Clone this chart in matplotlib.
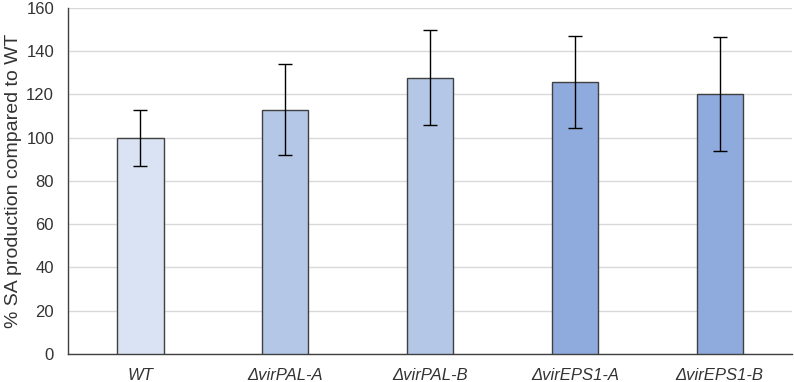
import matplotlib
matplotlib.use("Agg")
import matplotlib.pyplot as plt

categories = ["WT", "ΔvirPAL-A", "ΔvirPAL-B", "ΔvirEPS1-A", "ΔvirEPS1-B"]
values = [100, 113, 127.8, 125.8, 120.1]
errors = [13, 21, 21.8, 21.2, 26.4]
colors = ["#DAE3F3", "#B4C7E7", "#B4C7E7", "#8FAADC", "#8FAADC"]
yticks = [0, 20, 40, 60, 80, 100, 120, 140, 160]

plt.rcParams['font.family'] = ['Liberation Sans', 'DejaVu Sans']

fig = plt.figure(figsize=(7.94, 3.82), dpi=100)
ax = fig.add_axes([0.0856, 0.0733, 0.912, 0.906])

x = list(range(len(categories)))
ax.bar(x, values, width=0.32, color=colors, edgecolor="#404040", linewidth=1.0, zorder=3)
ax.errorbar(x, values, yerr=errors, fmt="none", ecolor="black", elinewidth=1.0,
            capsize=5, capthick=1.0, zorder=4)

txt = "#333333"
ax.set_xlim(-0.5, len(categories) - 0.5)
ax.set_ylim(0, 160)
ax.set_yticks(yticks)
ax.set_yticklabels([str(t) for t in yticks], fontsize=12, color=txt)
ax.set_xticks(x)
ax.set_xticklabels(categories, fontsize=12, style="italic", color=txt)
ax.tick_params(axis="x", length=0, pad=10)
ax.tick_params(axis="y", length=0, pad=10)
ax.yaxis.grid(True, color="#D9D9D9", linewidth=1.0, zorder=0)
ax.set_axisbelow(True)
for s in ["top", "right"]:
    ax.spines[s].set_visible(False)
for s in ["left", "bottom"]:
    ax.spines[s].set_color("#404040")
    ax.spines[s].set_linewidth(1.0)
ax.set_ylabel("% SA production compared to WT", fontsize=14, color=txt)
ax.yaxis.set_label_coords(-0.064, 0.5)

fig.savefig("out.png", dpi=100)
